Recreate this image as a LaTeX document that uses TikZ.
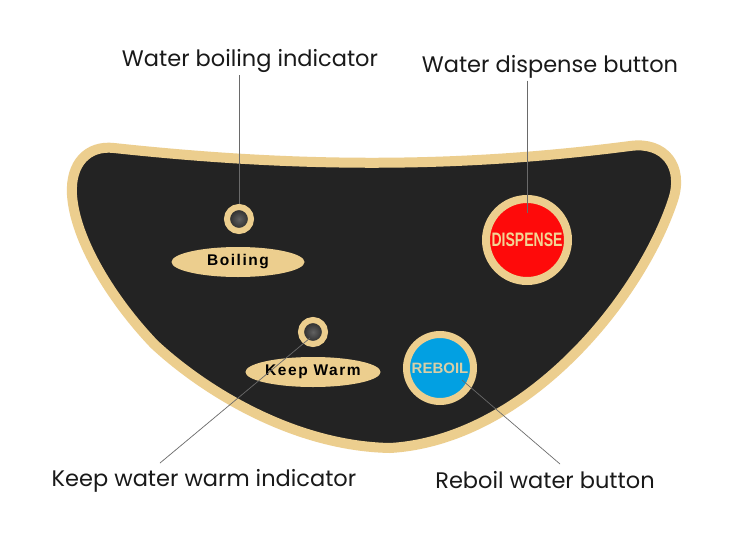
\documentclass[tikz,border=0pt]{standalone}
\usepackage{fontspec}
\usepackage{graphicx}
\setmainfont{Poppins}
\newfontfamily\btnfont[LetterSpace=10]{Liberation Sans}
\newfontfamily\capfont{Liberation Sans}
\usetikzlibrary{shapes.geometric,calc}
\definecolor{panelgold}{HTML}{ECCE8E}
\definecolor{paneldark}{HTML}{232323}
\definecolor{btnred}{HTML}{FE0A0A}
\definecolor{btnblue}{HTML}{02A0E2}
\definecolor{leadgray}{HTML}{6A6A6A}
\definecolor{capgold}{HTML}{F2D494}
\definecolor{capbeige}{HTML}{D9CFA6}

\begin{document}
\begin{tikzpicture}[x=1pt,y=-1pt,
  lbl/.style={font=\fontsize{22.5}{26}\selectfont,text=black!90,inner sep=2pt},
  led/.style={circle,draw=panelgold,line width=6pt,minimum size=24pt,inner sep=0pt,inner color=black!62,outer color=paneldark},
  tag/.style={ellipse,fill=panelgold,minimum width=133pt,minimum height=30pt,inner sep=0pt,font=\btnfont\bfseries\fontsize{15.5}{16}\selectfont},
  btn/.style={circle,draw=panelgold,inner sep=0pt},
  leader/.style={draw=leadgray,line width=0.7pt}]
\useasboundingbox[fill=white] (0,0) rectangle (750,533);
\draw[panelgold,line width=10pt,fill=paneldark,line join=round]
  (114,148) .. controls (300,168) and (460,168) .. (630,146)
  .. controls (665,141) and (684,167) .. (673,200)
  .. controls (640,300) and (525,440) .. (390,448)
  .. controls (290,446) and (200,387) .. (154,344)
  .. controls (112,300) and (75,240) .. (72,195)
  .. controls (70,163) and (88,145) .. (114,148) -- cycle;
\node[led] (boilLed) at (239,219) {};
\node[tag] (boilTag) at (238,262) {Boiling};
\node[led] (warmLed) at (313,332) {};
\node[tag,minimum width=131pt] (warmTag) at (313,372) {Keep Warm};
\node[btn,fill=btnred,line width=8pt,minimum size=82pt] (dispBtn) at (527,240)
  {\scalebox{0.72}[1]{\capfont\bfseries\fontsize{19.5}{20}\selectfont\color{capgold}DISPENSE}};
\node[btn,fill=btnblue,line width=7pt,minimum size=67pt] (rebBtn) at (440,368)
  {\capfont\bfseries\fontsize{15}{15}\selectfont\color{capbeige}REBOIL};
\node[lbl] (boilLbl) at (250,61) {Water boiling indicator};
\node[lbl] (dispLbl) at (550,67) {Water dispense button};
\node[lbl] (warmLbl) at (204,481) {Keep water warm indicator};
\node[lbl] (rebLbl) at (545,480) {Reboil water button};
\coordinate (warmEnd) at (160,463);
\coordinate (rebEnd) at (560,464);
\draw[leader] (boilLed.north) -- (boilLed |- boilLbl.south);
\draw[leader] (dispLbl.south -| dispBtn) -- ($(dispBtn.center)+(0,-27)$);
\draw[leader] ($(warmLed.center)+(-3,6)$) -- (warmEnd);
\draw[leader] ($(rebBtn.center)+(22,12)$) -- (rebEnd);
\end{tikzpicture}
\end{document}
